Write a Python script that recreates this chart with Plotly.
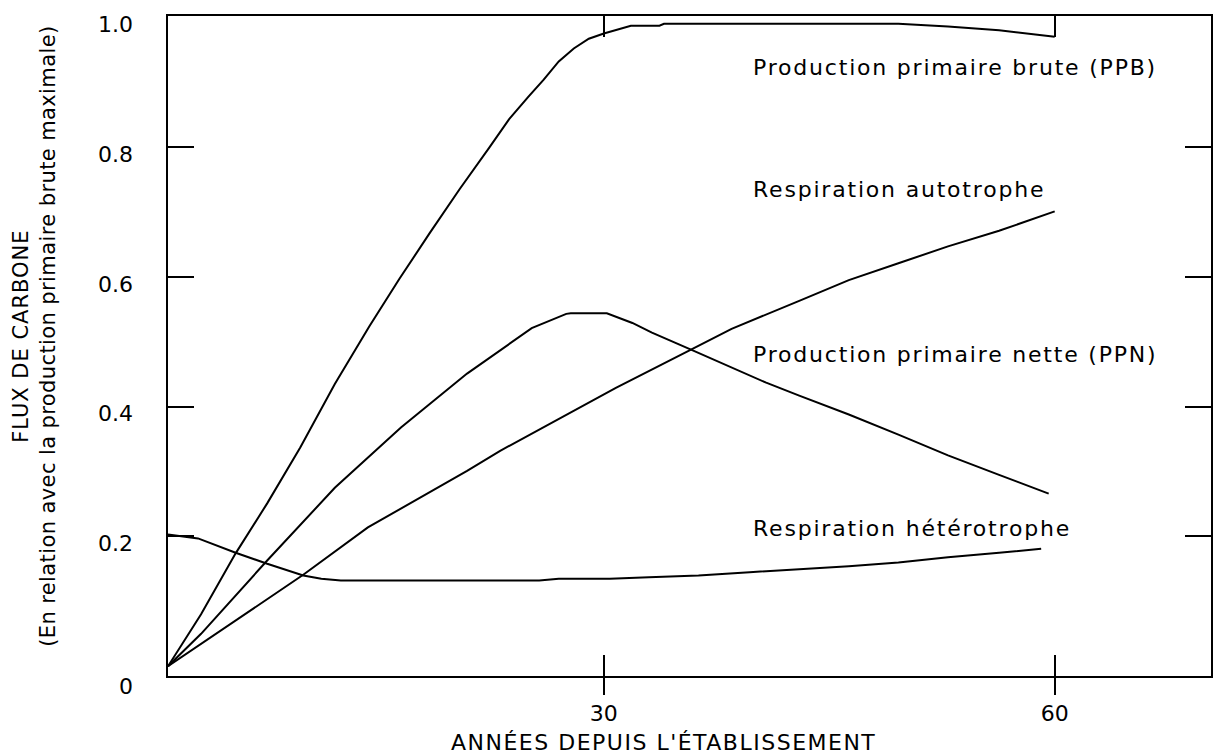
import plotly.graph_objects as go

# ---------------- data ----------------
ppb_x = [1, 3.2, 5.5, 7.6, 9.8, 12.1, 14.4, 16.4, 18.4, 20.4, 22.4, 23.7, 25, 26, 27, 28, 29, 30,
         31.8, 33.7, 34, 49.6, 52.9, 56.3, 60]
ppb_y = [0, 0.08, 0.174, 0.251, 0.337, 0.435, 0.524, 0.597, 0.667, 0.735, 0.80, 0.843, 0.878, 0.904,
         0.932, 0.952, 0.967, 0.975, 0.987, 0.987, 0.99, 0.99, 0.986, 0.98, 0.97]

auto_x = [1, 10, 14.3, 20.9, 23.1, 30.8, 35.8, 38.5, 43, 46.3, 49.6, 52.9, 56.3, 60]
auto_y = [0, 0.141, 0.214, 0.301, 0.332, 0.429, 0.488, 0.52, 0.563, 0.595, 0.621, 0.647, 0.671, 0.701]

ppn_x = [1, 3.2, 7.6, 12.1, 16.5, 20.3, 20.9, 25.2, 27.5, 27.8, 30.2, 31.9, 33.2, 35.8, 38.5, 40.8,
         43, 46.3, 49.6, 52.9, 56.3, 59.6]
ppn_y = [0, 0.05, 0.163, 0.275, 0.368, 0.44, 0.451, 0.521, 0.543, 0.544, 0.544, 0.529, 0.514, 0.488,
         0.46, 0.437, 0.417, 0.388, 0.357, 0.325, 0.295, 0.266]

het_x = [1, 3, 5.5, 7.6, 10, 11.2, 12.5, 25.7, 27, 30.4, 33, 36.3, 39.7, 43, 46.3, 49.6, 52.9, 56.3, 59.1]
het_y = [0.203, 0.197, 0.175, 0.158, 0.14, 0.135, 0.132, 0.132, 0.135, 0.135, 0.137, 0.14, 0.145,
         0.149, 0.154, 0.16, 0.168, 0.175, 0.181]

x_ticks = [30, 60]
x_tick_labels = ["30", "60"]
y_ticks = [0.2, 0.4, 0.6, 0.8]
y_label_vals = [0.2, 0.4, 0.6, 0.8, 1.0]
y_label_text = ["0.2", "0.4", "0.6", "0.8", "1.0"]
y_zero_val = [0]
y_zero_text = ["0"]

curve_labels = ["Production primaire brute (PPB)", "Respiration autotrophe",
                "Production primaire nette (PPN)", "Respiration hétérotrophe"]
label_y = [0.923, 0.735, 0.48, 0.212]
label_x = 39.8

x_title = "ANNÉES DEPUIS L'ÉTABLISSEMENT"
y_title_1 = "FLUX DE CARBONE"
y_title_2 = "(En relation avec la production primaire brute maximale)"

# ---------------- figure ----------------
FONT = "DejaVu Sans"
SP = "letter-spacing:1.8px"


def spaced(t, sp=SP):
    return f'<span style="{sp}">{t}</span>'


fig = go.Figure()
line = dict(color="black", width=2)
fig.add_trace(go.Scatter(x=ppb_x, y=ppb_y, mode="lines", line=line, showlegend=False,
                         hoverinfo="skip"))
fig.add_trace(go.Scatter(x=ppn_x, y=ppn_y, mode="lines", line=line, showlegend=False,
                         hoverinfo="skip"))
# drawn on overlay axes (same ranges) so that the label/tick axes are rendered
fig.add_trace(go.Scatter(x=auto_x, y=auto_y, mode="lines", line=line, showlegend=False,
                         hoverinfo="skip", xaxis="x", yaxis="y3"))
fig.add_trace(go.Scatter(x=het_x, y=het_y, mode="lines", line=line, showlegend=False,
                         hoverinfo="skip", xaxis="x2", yaxis="y2"))

for txt, yy in zip(curve_labels, label_y):
    fig.add_annotation(x=label_x, y=yy, xref="x", yref="y", text=spaced(txt),
                       showarrow=False, xanchor="left", yanchor="middle",
                       font=dict(family=FONT, size=22, color="black"))

fig.add_annotation(x=0.4746, y=-0.1015, xref="paper", yref="paper",
                   text=spaced(x_title, "letter-spacing:1.5px"),
                   showarrow=False, xanchor="center", yanchor="middle",
                   font=dict(family=FONT, size=22, color="black"))
fig.add_annotation(x=-0.1287, y=0.515, xref="paper", yref="paper",
                   text=spaced(y_title_1, "letter-spacing:1px") + "<br>"
                   + spaced(y_title_2, "letter-spacing:0.4px"),
                   showarrow=False, xanchor="center", yanchor="middle", textangle=-90,
                   font=dict(family=FONT, size=21, color="black"))

axis_common = dict(showgrid=False, zeroline=False)
tick_font = dict(family=FONT, size=22, color="black")
fig.update_layout(
    width=1214, height=756,
    margin=dict(l=168, r=1, t=16, b=80),
    paper_bgcolor="white", plot_bgcolor="white",
    font=dict(family=FONT, size=22, color="black"),
    xaxis=dict(range=[1, 70.4], showline=True, linecolor="black", linewidth=2, mirror="ticks",
               ticks="inside", ticklen=21, tickwidth=2, tickcolor="black",
               tickvals=x_ticks, showticklabels=False, **axis_common),
    xaxis2=dict(overlaying="x", matches="x", anchor="y2", side="bottom", showline=False,
                ticks="outside", ticklen=18, tickwidth=2, tickcolor="black",
                tickvals=x_ticks, ticktext=x_tick_labels, tickfont=tick_font, **axis_common),
    yaxis=dict(range=[-0.015, 1.002], showline=True, linecolor="black", linewidth=2, mirror="ticks",
               ticks="inside", ticklen=26, tickwidth=2, tickcolor="black",
               tickvals=y_ticks, showticklabels=False, **axis_common),
    yaxis2=dict(overlaying="y", matches="y", anchor="x2", side="left", showline=False,
                ticks="", tickvals=y_label_vals, ticktext=y_label_text,
                ticklabelstandoff=34, ticklabelshift=7, tickfont=tick_font, **axis_common),
    yaxis3=dict(overlaying="y", matches="y", anchor="x", side="left", showline=False,
                ticks="", tickvals=y_zero_val, ticktext=y_zero_text,
                ticklabelstandoff=34, ticklabelshift=20, tickfont=tick_font, **axis_common),
)

fig.write_html("out.html", config={"displayModeBar": False},
               post_script="document.body.style.margin='0';")
